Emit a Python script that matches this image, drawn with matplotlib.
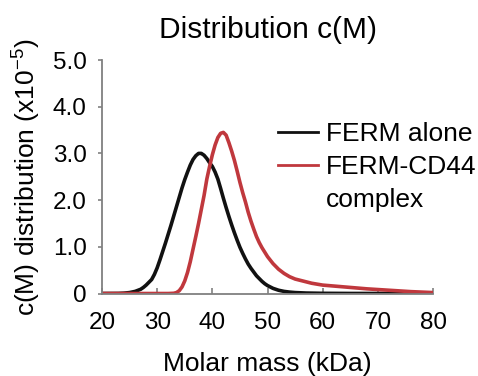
import matplotlib
matplotlib.use("Agg")
import matplotlib.pyplot as plt
from matplotlib.lines import Line2D

plt.rcParams['font.family'] = ['Liberation Sans', 'DejaVu Sans']
plt.rcParams['mathtext.fontset'] = 'custom'
plt.rcParams['mathtext.rm'] = 'Liberation Sans'

# FERM alone (kDa, c(M) x1e-5)
mass_black = [20, 23, 24, 25, 26, 27, 27.5, 28, 28.5, 29, 29.5, 30, 30.5, 31,
              31.5, 32, 32.5, 33, 33.5, 34, 34.5, 35, 35.5, 36, 36.5, 37, 37.5,
              38, 38.5, 39, 39.5, 40, 40.5, 41, 41.5, 42, 42.5, 43, 43.5, 44,
              44.5, 45, 45.5, 46, 46.5, 47, 47.5, 48, 48.5, 49, 49.5, 50, 51,
              52, 53, 54, 55, 57, 60, 65, 80]
cm_black = [0, 0.002, 0.008, 0.02, 0.045, 0.09, 0.13, 0.18, 0.24, 0.3, 0.41,
            0.55, 0.72, 0.9, 1.08, 1.27, 1.46, 1.66, 1.86, 2.06, 2.26, 2.44,
            2.6, 2.75, 2.87, 2.95, 3.0, 3.0, 2.96, 2.89, 2.8, 2.72, 2.6, 2.45,
            2.25, 2.04, 1.84, 1.65, 1.47, 1.3, 1.14, 0.99, 0.86, 0.74, 0.63,
            0.54, 0.46, 0.38, 0.32, 0.26, 0.21, 0.17, 0.11, 0.07, 0.045, 0.03,
            0.02, 0.01, 0.004, 0.001, 0]

# FERM-CD44 complex
mass_red = [20, 32, 33, 33.5, 34, 34.5, 35, 35.5, 36, 36.5, 37, 37.5, 38, 38.5,
            39, 39.5, 40, 40.5, 41, 41.5, 42, 42.5, 43, 43.5, 44, 44.5, 45,
            45.5, 46, 46.5, 47, 47.5, 48, 48.5, 49, 50, 51, 52, 53, 54, 55, 56,
            58, 60, 62, 64, 66, 68, 70, 72, 74, 76, 78, 80]
cm_red = [0, 0, 0.005, 0.02, 0.06, 0.14, 0.27, 0.45, 0.68, 0.95, 1.22, 1.5,
          1.8, 2.1, 2.45, 2.72, 2.97, 3.18, 3.34, 3.43, 3.45, 3.39, 3.23, 3.05,
          2.85, 2.62, 2.38, 2.16, 1.96, 1.74, 1.55, 1.38, 1.22, 1.09, 0.98,
          0.79, 0.64, 0.52, 0.43, 0.36, 0.31, 0.28, 0.22, 0.18, 0.16, 0.14,
          0.12, 0.1, 0.085, 0.07, 0.055, 0.04, 0.03, 0.02]

xticks = [20, 30, 40, 50, 60, 70, 80]
yticks = [0, 1, 2, 3, 4, 5]
ytick_labels = ["0", "1.0", "2.0", "3.0", "4.0", "5.0"]

fig = plt.figure(figsize=(4.78, 3.76), dpi=100)
ax = fig.add_axes([0.2134, 0.2194, 0.6925, 0.621])

ax.plot(mass_black, cm_black, color="#111111", lw=2.6, solid_capstyle="round")
ax.plot(mass_red, cm_red, color="#c0383d", lw=2.6, solid_capstyle="round")

ax.set_xlim(20, 80)
ax.set_ylim(0, 5)
ax.set_xticks(xticks)
ax.set_yticks(yticks)
ax.set_yticklabels(ytick_labels)

for s in ["top", "right"]:
    ax.spines[s].set_visible(False)
for s in ["left", "bottom"]:
    ax.spines[s].set_color("#808080")
    ax.spines[s].set_linewidth(1.3)

ax.tick_params(axis="x", direction="in", length=4, width=1.2, color="#808080",
               labelsize=17.5, pad=13)
ax.tick_params(axis="y", direction="out", length=3, width=1.2, color="#808080",
               labelsize=17.5, pad=8)

ax.set_xlabel("Molar mass (kDa)", fontsize=19, labelpad=13)
ax.set_ylabel(r"c(M) distribution (x10$^{\mathregular{-5}}$)", fontsize=19,
              labelpad=8)
ax.set_title("Distribution c(M)", fontsize=21.5, pad=16)

handles = [Line2D([], [], color="#111111", lw=2),
           Line2D([], [], color="#c0383d", lw=2),
           Line2D([], [], color="none")]
labels = ["FERM alone", "FERM-CD44", "complex"]
ax.legend(handles, labels, loc="upper left", bbox_to_anchor=(0.5, 0.779),
          frameon=False, fontsize=19, handlelength=1.5, handletextpad=0.3,
          labelspacing=0.33, borderaxespad=0)

fig.savefig("out.png", dpi=100)
